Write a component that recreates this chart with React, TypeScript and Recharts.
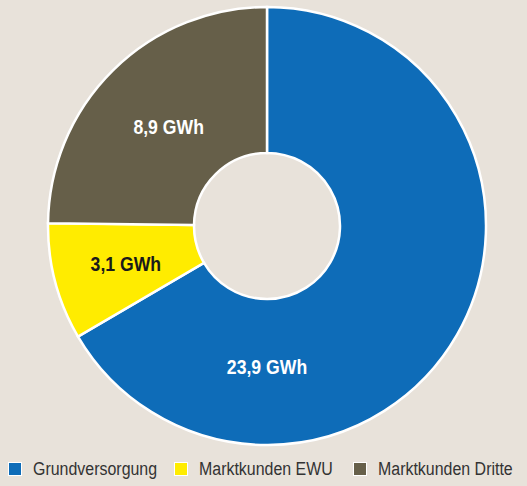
import { Legend, Pie, PieChart, Cell } from 'recharts';

const categories = ['Grundversorgung', 'Marktkunden EWU', 'Marktkunden Dritte'];
const values = [23.9, 3.1, 8.9];
const valueLabels = ['23,9 GWh', '3,1 GWh', '8,9 GWh'];
const colors = ['#0e6cb8', '#ffec00', '#665f49'];
const labelColors = ['#ffffff', '#1a1a1a', '#ffffff'];

const FONT = "'Liberation Sans', Arial, sans-serif";
const BG = '#e8e2da';
// the original uses a condensed face, so squeeze the text horizontally
const SQUEEZE = 0.84;
const legendX = [8, 174, 353];

const chartData = categories.map((name, i) => ({ name, value: values[i] }));

const RAD = Math.PI / 180;

// the big slice has its label straight below the hole, the others sit at mid angle
function renderLabel(props: any) {
  const { cx, cy, innerRadius, outerRadius, midAngle, index } = props;
  const angle = index === 0 ? -90 : midAngle;
  const r = (innerRadius + outerRadius) / 2 - (index === 1 ? 0 : 6);
  const x = cx + r * Math.cos(-angle * RAD);
  const y = cy + r * Math.sin(-angle * RAD);
  return (
    <text transform={`translate(${x},${y}) scale(${SQUEEZE},1)`} fill={labelColors[index]} textAnchor="middle"
      dominantBaseline="central" fontFamily={FONT} fontWeight="bold" fontSize={21}>
      {valueLabels[index]}
    </text>
  );
}

function renderLegend() {
  return (
    <svg width={527} height={30}>
      {categories.map((c, i) => (
        <g key={c} transform={`translate(${legendX[i]},0)`}>
          <rect x={0.5} y={7.5} width={13} height={13} fill={colors[i]} stroke="#ffffff" strokeWidth={1} />
          <text transform={`translate(25,14) scale(${SQUEEZE},1)`} dominantBaseline="central"
            fontFamily={FONT} fontSize={19} fill="#333333">
            {c}
          </text>
        </g>
      ))}
    </svg>
  );
}

export default function App() {
  return (
    <div style={{ position: 'fixed', top: 0, left: 0, width: 527, height: 486, background: BG }}>
      <PieChart width={527} height={486} margin={{ top: 0, right: 0, bottom: 0, left: 0 }}>
        <Pie data={chartData} dataKey="value" nameKey="name" cx={267} cy={226} innerRadius={73} outerRadius={219}
          startAngle={90} endAngle={-270} stroke="#ffffff" strokeWidth={2.5} label={renderLabel} labelLine={false}
          isAnimationActive={false}>
          {chartData.map((d, i) => <Cell key={d.name} fill={colors[i]} />)}
        </Pie>
        <Legend content={renderLegend} wrapperStyle={{ top: 455, left: 0, width: 527 }} />
      </PieChart>
    </div>
  );
}
